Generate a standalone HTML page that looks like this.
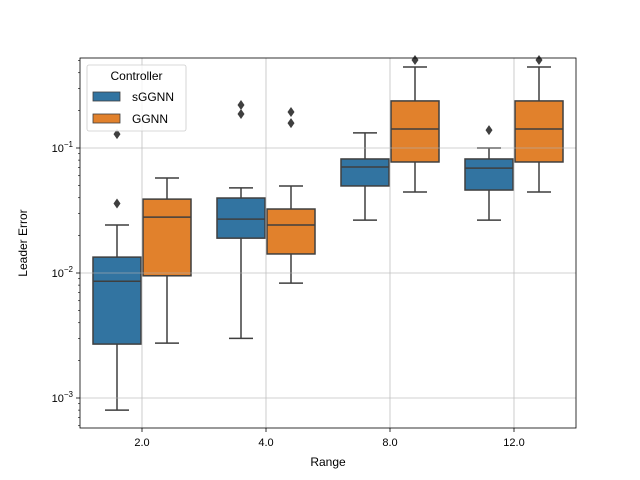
<!DOCTYPE html>
<html><head><meta charset="utf-8"><style>body{margin:0;background:#fff}svg{display:block;font-family:"Liberation Sans","DejaVu Sans",sans-serif}</style></head>
<body>
<svg id="chart" width="640" height="480" viewBox="0 0 640 480"></svg>
<script>
const categories=["2.0","4.0","8.0","12.0"];
const seriesNames=["sGGNN","GGNN"];
const seriesColors=["#3274a1","#e1812c"];
// [whiskerLow, Q1, median, Q3, whiskerHigh]
const sggnnStats=[[0.0008,0.0027,0.0086,0.0134,0.0242],[0.003,0.019,0.027,0.0398,0.048],[0.0265,0.0497,0.0705,0.0817,0.132],[0.0265,0.0461,0.069,0.0817,0.1]];
const ggnnStats=[[0.00275,0.0095,0.028,0.039,0.0575],[0.0083,0.0142,0.0242,0.0325,0.0497],[0.0445,0.0773,0.142,0.238,0.445],[0.0445,0.0773,0.142,0.238,0.445]];
const sggnnOutliers=[[0.036,0.129],[0.221,0.187],[],[0.139]];
const ggnnOutliers=[[],[0.194,0.158],[0.506],[0.506]];
const yTickExps=[-3,-2,-1];

const NS="http://www.w3.org/2000/svg";
const svg=document.getElementById('chart');
const L=80,R=576,T=58,B=428;
function y(v){return 148-(Math.log10(v)+1)*125;}
function xc(i){return L+(i+0.5)*(R-L)/categories.length;}
function mk(tag,attrs,parent){const e=document.createElementNS(NS,tag);for(const k in attrs)e.setAttribute(k,attrs[k]);(parent||svg).appendChild(e);return e;}

const boxes=mk('g',{});


const allStats=[sggnnStats,ggnnStats],allOut=[sggnnOutliers,ggnnOutliers];
const bw=48;
for(let s=0;s<2;s++){
 for(let i=0;i<categories.length;i++){
  const st=allStats[s][i];const cx=xc(i)+(s===0?-25:25);
  const g=mk('g',{},boxes);
  
  
  const col='#3f3f3f';
  mk('line',{x1:cx,x2:cx,y1:y(st[4]),y2:y(st[3]),stroke:col,'stroke-width':1.5},g);
  mk('line',{x1:cx,x2:cx,y1:y(st[1]),y2:y(st[0]),stroke:col,'stroke-width':1.5},g);
  mk('line',{x1:cx-12,x2:cx+12,y1:y(st[4]),y2:y(st[4]),stroke:col,'stroke-width':1.5},g);
  mk('line',{x1:cx-12,x2:cx+12,y1:y(st[0]),y2:y(st[0]),stroke:col,'stroke-width':1.5},g);
  mk('rect',{x:cx-bw/2,y:y(st[3]),width:bw,height:y(st[1])-y(st[3]),fill:seriesColors[s],stroke:col,'stroke-width':1.5},g);
  mk('line',{x1:cx-bw/2,x2:cx+bw/2,y1:y(st[2]),y2:y(st[2]),stroke:col,'stroke-width':1.5},g);
  for(const o of allOut[s][i]){const yy=y(o);
   const d=mk('polygon',{points:`${cx},${yy-5} ${cx+3.5},${yy} ${cx},${yy+5} ${cx-3.5},${yy}`,fill:col},g);
   
   }
 }
}
// grid
const grid=mk('g',{stroke:'#b0b0b0','stroke-width':0.8,opacity:0.8});


for(let i=0;i<categories.length;i++)mk('line',{x1:xc(i),x2:xc(i),y1:T,y2:B},grid);
for(const e of yTickExps)mk('line',{x1:L,x2:R,y1:y(Math.pow(10,e)),y2:y(Math.pow(10,e))},grid);
// axes
const frame=mk('rect',{x:L,y:T,width:R-L,height:B-T,fill:'none',stroke:'#000','stroke-width':0.8});


for(let i=0;i<categories.length;i++){
 mk('line',{x1:xc(i),x2:xc(i),y1:B,y2:B+4,stroke:'#000','stroke-width':0.8});
 const t=mk('text',{x:xc(i),y:B+18,'text-anchor':'middle','font-size':11});t.textContent=categories[i];
 
 
}
for(let e=-4;e<=0;e++)for(let m=2;m<10;m++){const v=m*Math.pow(10,e);const yy=y(v);if(yy>T&&yy<B)mk('line',{x1:L-2,x2:L,y1:yy,y2:yy,stroke:'#000','stroke-width':0.6});}
for(const e of yTickExps){const yy=y(Math.pow(10,e));
 mk('line',{x1:L-4,x2:L,y1:yy,y2:yy,stroke:'#000','stroke-width':0.8});
 const t=mk('text',{x:L-7,y:yy+4,'text-anchor':'end','font-size':11});
 t.innerHTML='10<tspan dy="-5" font-size="8">\u2212'+(-e)+'</tspan>';
 
 }
const xt=mk('text',{x:(L+R)/2,y:466,'text-anchor':'middle','font-size':12});xt.textContent='Range';


const yt=mk('text',{x:27,y:243,'text-anchor':'middle','font-size':12,transform:'rotate(-90 27 243)'});yt.textContent='Leader Error';


// legend
const lg=mk('g',{});


mk('rect',{x:87,y:65,width:99,height:66,rx:2,fill:'#fff','fill-opacity':0.8,stroke:'#ccc','stroke-width':0.8},lg);
const lt=mk('text',{x:136.5,y:80,'text-anchor':'middle','font-size':12},lg);lt.textContent='Controller';
for(let s=0;s<2;s++){const yy=92+s*22;
 const en=mk('g',{},lg);
 
 
 mk('rect',{x:93,y:yy,width:27,height:9,fill:seriesColors[s],stroke:'#3f3f3f','stroke-width':0.8},en);
 const tx=mk('text',{x:132,y:yy+9,'font-size':12},en);tx.textContent=seriesNames[s];}
</script>
</body></html>
